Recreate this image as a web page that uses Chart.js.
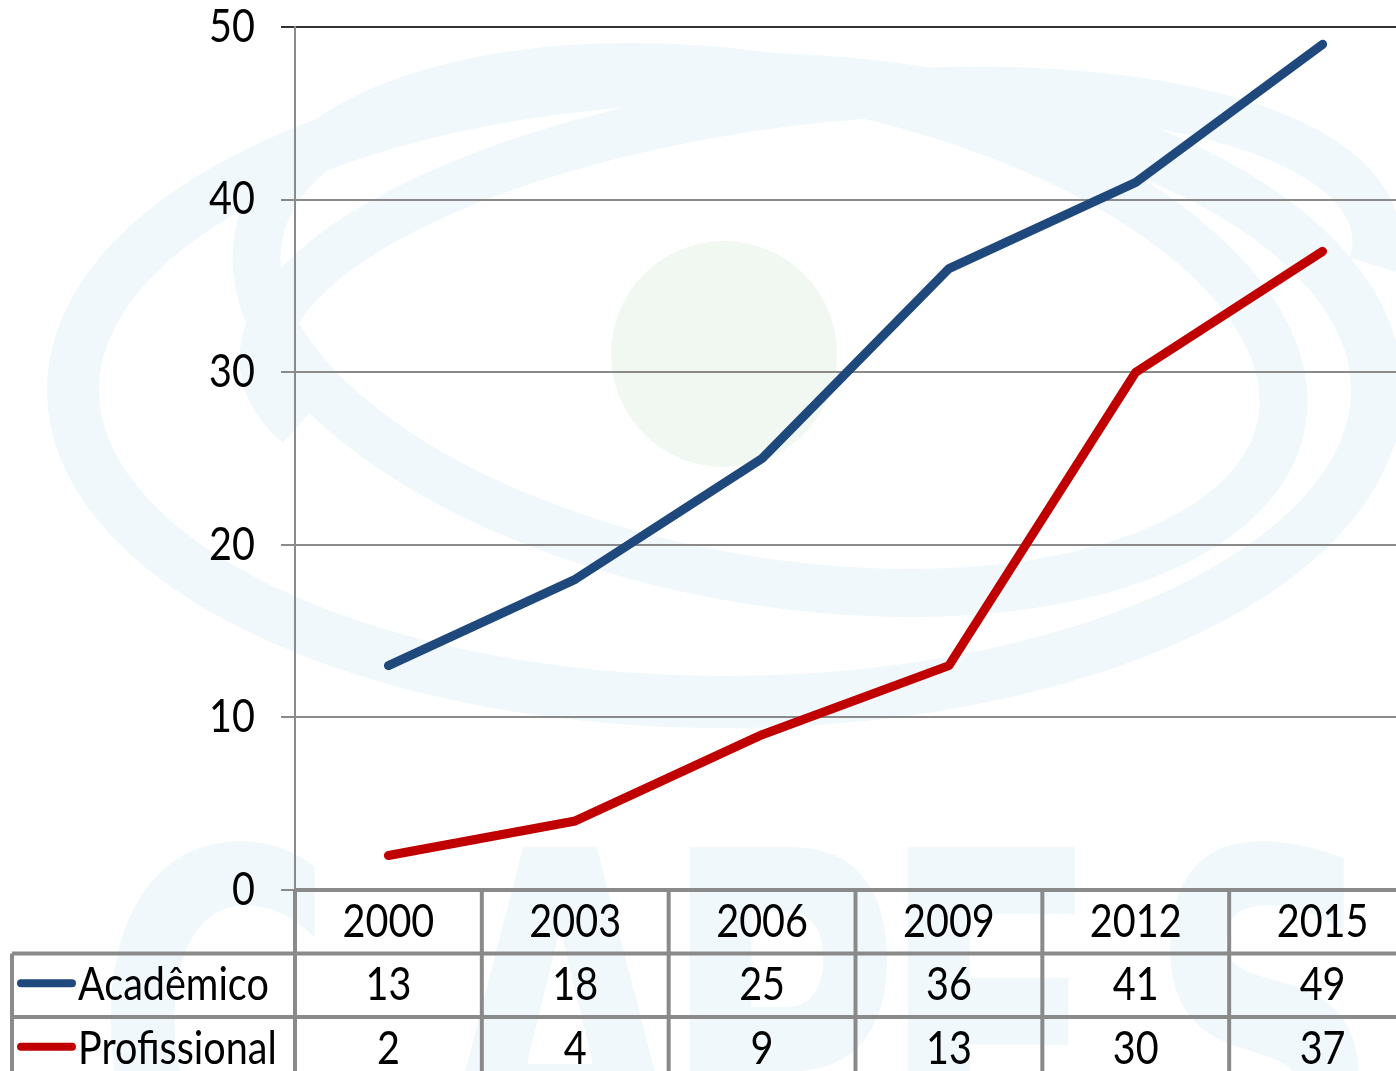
<!DOCTYPE html>
<html>
<head>
<meta charset="utf-8">
<script src="https://cdn.jsdelivr.net/npm/chart.js@4"></script>
<style>
  html, body { margin: 0; padding: 0; background: #fff; overflow: hidden; }
  #wrap { width: 1420px; height: 1071px; position: relative; }
</style>
</head>
<body>
<div id="wrap"><canvas id="myChart"></canvas></div>
<script>
const years = ['2000', '2003', '2006', '2009', '2012', '2015'];
const academico = [13, 18, 25, 36, 41, 49];
const profissional = [2, 4, 9, 13, 30, 37];
const seriesNames = ['Acadêmico', 'Profissional'];
const seriesColors = ['#1f497d', '#c00000'];
const yTicks = [0, 10, 20, 30, 40, 50];

const FONT = '46px Lato';
const SX = 0.86;

function squishText(ctx, text, x, y, align) {
    ctx.save();
    ctx.translate(x, y);
    ctx.scale(SX, 1);
    ctx.textAlign = align;
    ctx.textBaseline = 'middle';
    ctx.fillText(text, 0, 0);
    ctx.restore();
}

// faint logo in the background
const watermark = {
    id: 'watermark',
    beforeDraw(chart) {
        const ctx = chart.ctx;
        ctx.save();
        ctx.fillStyle = '#f0f8f1';
        ctx.beginPath();
        ctx.arc(724, 354, 113, 0, Math.PI * 2);
        ctx.fill();

        ctx.strokeStyle = '#f1f8fc';
        ctx.lineWidth = 52;
        ctx.beginPath();
        ctx.ellipse(725, 390, 652, 312, 0, 0, Math.PI * 2);
        ctx.stroke();
        ctx.lineWidth = 48;
        ctx.beginPath();
        ctx.ellipse(770, 330, 520, 250, 0.18, 0, Math.PI * 2);
        ctx.stroke();
        ctx.beginPath();
        ctx.ellipse(820, 300, 560, 200, -0.12, Math.PI * 0.9, Math.PI * 2.05);
        ctx.stroke();

        ctx.fillStyle = '#f1f8fc';
        ctx.font = 'bold 470px "DejaVu Sans"';
        ctx.textBaseline = 'alphabetic';
        ctx.textAlign = 'center';
        const letters = [['C', 215], ['A', 560], ['P', 780], ['E', 990], ['S', 1265]];
        letters.forEach(([ch, x]) => {
            ctx.save();
            ctx.translate(x, 1190);
            ctx.scale(0.7, 1);
            ctx.fillText(ch, 0, 0);
            ctx.restore();
        });
        ctx.restore();
    }
};

// y labels + data table under the plot
const dataTable = {
    id: 'dataTable',
    afterDraw(chart) {
        const ctx = chart.ctx;
        const xs = chart.scales.x;
        const ys = chart.scales.y;
        const area = chart.chartArea;
        ctx.save();
        ctx.fillStyle = '#000';
        ctx.font = FONT;

        yTicks.forEach(v => squishText(ctx, String(v), 255, ys.getPixelForValue(v), 'right'));

        const n = years.length;
        const colW = (xs.right - xs.left) / n;
        const top = area.bottom;
        const rowH = 63.5;
        const rowsY = [top, top + rowH, top + rowH * 2, top + rowH * 3];

        ctx.strokeStyle = '#8a8a8a';
        ctx.lineWidth = 4;
        ctx.beginPath();
        ctx.moveTo(xs.left, rowsY[0]); ctx.lineTo(chart.width, rowsY[0]);
        ctx.moveTo(12, rowsY[1]); ctx.lineTo(chart.width, rowsY[1]);
        ctx.moveTo(12, rowsY[2]); ctx.lineTo(chart.width, rowsY[2]);
        for (let i = 0; i <= n; i++) {
            const x = xs.left + i * colW;
            ctx.moveTo(x, rowsY[0]); ctx.lineTo(x, chart.height);
        }
        ctx.moveTo(12, rowsY[1]); ctx.lineTo(12, chart.height);
        ctx.stroke();

        const rows = [academico, profissional];
        years.forEach((yr, i) => {
            const cx = xs.getPixelForValue(i);
            squishText(ctx, yr, cx, rowsY[0] + rowH / 2, 'center');
            rows.forEach((vals, r) => {
                squishText(ctx, String(vals[i]), cx, rowsY[r + 1] + rowH / 2, 'center');
            });
        });

        seriesNames.forEach((name, r) => {
            const cy = rowsY[r + 1] + rowH / 2 - 2;
            ctx.strokeStyle = seriesColors[r];
            ctx.lineWidth = 8;
            ctx.lineCap = 'round';
            ctx.beginPath();
            ctx.moveTo(21, cy); ctx.lineTo(72, cy);
            ctx.stroke();
            ctx.fillStyle = '#000';
            squishText(ctx, name, 78, cy + 2, 'left');
        });
        ctx.restore();
    }
};

const ctx = document.getElementById('myChart');
const myChart = new Chart(ctx, {
    type: 'line',
    data: {
        labels: years,
        datasets: [
            {
                label: seriesNames[0],
                data: academico,
                borderColor: seriesColors[0],
                borderWidth: 9,
                borderCapStyle: 'round',
                borderJoinStyle: 'round',
                pointRadius: 0,
                tension: 0
            },
            {
                label: seriesNames[1],
                data: profissional,
                borderColor: seriesColors[1],
                borderWidth: 9,
                borderCapStyle: 'round',
                borderJoinStyle: 'round',
                pointRadius: 0,
                tension: 0
            }
        ]
    },
    options: {
        responsive: true,
        maintainAspectRatio: false,
        animation: false,
        layout: { padding: { top: 27, right: 4, bottom: 181, left: 0 } },
        plugins: {
            legend: { display: false },
            tooltip: { enabled: false }
        },
        scales: {
            x: {
                display: false,
                offset: true
            },
            y: {
                min: 0,
                max: 50,
                ticks: { stepSize: 10, display: false },
                grid: {
                    color: c => c.tick && c.tick.value === 50 ? '#333' : '#8a8a8a',
                    lineWidth: 2,
                    tickLength: 14
                },
                border: { color: '#8a8a8a', width: 2 },
                afterFit: s => { s.width = 295; }
            }
        }
    },
    plugins: [watermark, dataTable]
});
</script>
</body>
</html>
